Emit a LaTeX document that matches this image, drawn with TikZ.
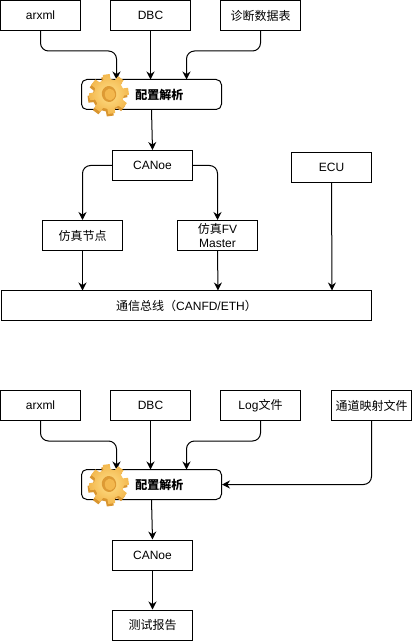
\documentclass[tikz,border=0pt]{standalone}
\usepackage{fontspec}
\setmainfont{Liberation Sans}
\newfontfamily\cjk{Noto Sans CJK SC}
\usepackage{tikz}
\usetikzlibrary{arrows.meta,positioning}

\definecolor{gearlight}{HTML}{FFE08A}
\definecolor{gearmid}{HTML}{F3B84E}
\definecolor{geardark}{HTML}{D9952F}

\tikzset{
    box/.style={draw, line width=0.75pt, minimum width=60pt, minimum height=22.5pt, inner sep=0pt, align=center, font=\fontsize{9}{10.5}\selectfont},
    cfgbox/.style={box, rounded corners=4pt, minimum width=105pt},
    busbox/.style={box, minimum width=277.5pt},
    conn/.style={-{Stealth[length=6pt,width=6pt]}, line width=0.75pt},
    curved/.style={conn, rounded corners=6pt},
}

% gear icon, drawn over the arrow tips
\newcommand{\gearicon}[2]{%
\begin{scope}[shift={(#1-1.5,#2+2)}, rotate=8]
    \fill[geardark] (-14:15) \foreach \a in {0,45,...,315} {
            -- ({\a-14}:15) -- ({\a-10}:20) -- ({\a+10}:20) -- ({\a+14}:15)
        } -- cycle;
\end{scope}
\begin{scope}[shift={(#1,#2-0.5)}, rotate=8]
    \shade[inner color=gearlight, outer color=gearmid] (-14:15) \foreach \a in {0,45,...,315} {
            -- ({\a-14}:15) -- ({\a-10}:20) -- ({\a+10}:20) -- ({\a+14}:15)
        } -- cycle;
    \fill[geardark!85!gearmid] (0,0) ellipse (5.4pt and 6pt);
    \fill[gearmid] (0.8,0.6) ellipse (3.8pt and 4.4pt);
\end{scope}}

\begin{document}
\begin{tikzpicture}[x=0.75pt, y=-0.75pt]
\useasboundingbox (0,0) rectangle (412,641);
\fill[white] (0,0) rectangle (412,641);

% Top: simulation
\node[box] (arxmlA) at (40.5,15.5) {arxml};
\node[box] (dbcA) at (150.5,15.5) {DBC};
\node[box] (diagA) at (260.5,15.5) {\cjk 诊断数据表};
\node[cfgbox] (cfgA) at (151.5,94.5) {};
\node[box] (canoeA) at (152.5,165.5) {CANoe};
\node[box] (ecuA) at (331.5,167.5) {ECU};
\node[box] (simnode) at (82.5,235.5) {\cjk 仿真节点};
\node[box] (simfv) at (217.5,235.5) {{\cjk 仿真}FV\\Master};
\node[busbox] (bus) at (186.5,305.5) {{\cjk 通信总线（}CANFD/ETH{\cjk ）}};

\coordinate (cfgAl) at (116.5,79.5);
\coordinate (cfgAm) at (150.5,79.5);
\coordinate (cfgAr) at (186.5,79.5);
\coordinate (busl) at (82.5,290.5);
\coordinate (busm) at (218,290.5);
\coordinate (busr) at (332,290.5);

\draw[curved] (arxmlA.south) -- ++(0,20) -| (cfgAl);
\draw[conn] (dbcA.south) -- (cfgAm);
\draw[curved] (diagA.south) -- ++(0,20) -| (cfgAr);
\draw[conn] (cfgA.south) -- (canoeA.north);
\draw[curved] (canoeA.west) -| (simnode.north);
\draw[curved] (canoeA.east) -| (simfv.north);
\draw[conn] (simnode.south) -- (busl);
\draw[conn] (simfv.south) -- (busm);
\draw[conn] (ecuA.south) -- (busr);

\gearicon{109}{94.5}
\node[font=\fontsize{9}{10.5}\selectfont\cjk\bfseries, anchor=west, inner sep=0pt] (cfgtextA) at (135,95) {配置解析};

% Bottom: replay
\node[box] (arxmlB) at (40.5,405.5) {arxml};
\node[box] (dbcB) at (150.5,405.5) {DBC};
\node[box] (logB) at (260.5,405.5) {Log{\cjk 文件}};
\node[box] (mapB) at (371.5,405.5) {\cjk 通道映射文件};
\node[cfgbox] (cfgB) at (151.5,484.5) {};
\node[box] (canoeB) at (152.5,555) {CANoe};
\node[box] (report) at (152.5,625) {\cjk 测试报告};

\coordinate (cfgBl) at (116.5,469.5);
\coordinate (cfgBm) at (150.5,469.5);
\coordinate (cfgBr) at (186.5,469.5);

\draw[curved] (arxmlB.south) -- ++(0,20) -| (cfgBl);
\draw[conn] (dbcB.south) -- (cfgBm);
\draw[curved] (logB.south) -- ++(0,20) -| (cfgBr);
\draw[curved] (mapB.south) |- (cfgB.east);
\draw[conn] (cfgB.south) -- (canoeB.north);
\draw[conn] (canoeB.south) -- (report.north);

\gearicon{109}{484.5}
\node[font=\fontsize{9}{10.5}\selectfont\cjk\bfseries, anchor=west, inner sep=0pt] (cfgtextB) at (135,485) {配置解析};
\end{tikzpicture}
\end{document}
